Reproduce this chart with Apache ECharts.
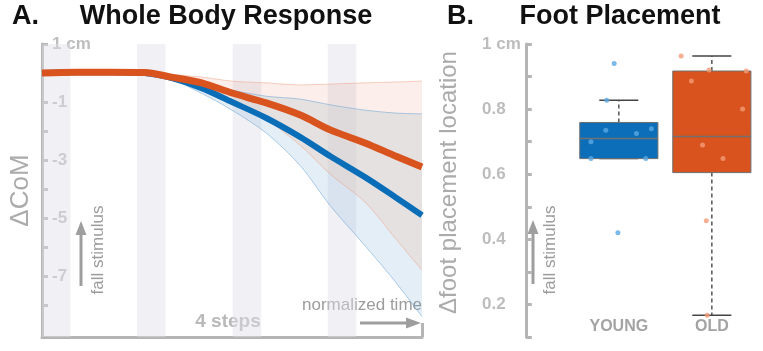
<!DOCTYPE html>
<html>
<head>
<meta charset="utf-8">
<script src="https://cdn.jsdelivr.net/npm/echarts@6/dist/echarts.min.js"></script>
<style>
  html, body { margin: 0; padding: 0; background: #fff; }
  #chart { width: 763px; height: 351px; }
</style>
</head>
<body>
<div id="chart"></div>
<script>
// A. whole body response (normalized time, % of 4 steps)
const timePts = [0, 9, 18, 27, 34, 42, 50, 59, 68, 76, 85, 93, 100]
const oldMean = [0, 0.03, 0.03, 0.02, -0.14, -0.34, -0.69, -1.03, -1.45, -1.97, -2.41, -2.86, -3.24]
const oldLower = [-0.03, -0.02, -0.02, -0.03, -0.25, -0.55, -1.03, -1.6, -2.5, -3.5, -4.45, -5.7, -6.8]
const oldUpper = [0.04, 0.07, 0.07, 0.06, -0.05, -0.14, -0.28, -0.34, -0.41, -0.38, -0.34, -0.31, -0.28]
const youngMean = [0, 0.03, 0.03, 0, -0.17, -0.52, -1.0, -1.55, -2.21, -2.88, -3.59, -4.28, -4.9]
const youngLower = [-0.03, -0.02, -0.02, -0.05, -0.22, -0.7, -1.28, -2.07, -3.2, -4.6, -5.95, -7.2, -8.4]
const youngUpper = [0.03, 0.06, 0.06, 0.03, -0.1, -0.35, -0.59, -0.8, -0.9, -1.1, -1.28, -1.38, -1.41]
const stepBands = [[0, 7.5], [25, 32.5], [50.2, 57.7], [75.2, 82.7]]
const comTicks = [1, 0, -1, -2, -3, -4, -5, -6, -7, -8]
const comLabels = [1, -1, -3, -5, -7]

// B. foot placement
const groups = ['YOUNG', 'OLD']
// [min, q1, median, q3, max]
const boxStats = [
  [0.648, 0.648, 0.71, 0.759, 0.827],
  [0.167, 0.605, 0.716, 0.917, 0.963]
]
const youngPts = [0.827, 0.735, 0.70, 0.725, 0.74, 0.648, 0.648, 0.94, 0.42]
const youngJitter = [-0.13, -0.14, -0.30, 0.19, 0.35, -0.30, 0.29, -0.05, -0.01]
const oldPts = [0.963, 0.92, 0.917, 0.886, 0.80, 0.69, 0.648, 0.457, 0.167]
const oldJitter = [-0.33, -0.03, 0.37, -0.22, 0.33, -0.10, 0.12, -0.06, -0.05]
const footTicks = [0.1, 0.2, 0.3, 0.4, 0.5, 0.6, 0.7, 0.8, 0.9, 1.0]
const footLabels = [0.2, 0.4, 0.6, 0.8, 1.0]

const chart = echarts.init(document.getElementById('chart'))

const FONT = '"Liberation Sans", Arial, sans-serif'
const axisGray = '#b5b5b5'
const labelGray = '#bdbdbd'
const textGray = '#9c9c9c'
const boxColors = ['#0c6eb9', '#d9531e']

const pair = (xs, ys) => xs.map((x, i) => [x, ys[i]])
const diff = (hi, lo) => hi.map((v, i) => v - lo[i])

// where the two bands overlap (gray zone in the figure)
const overlapLower = oldLower.map((v, i) => Math.max(v, youngLower[i]))
const overlapUpper = oldUpper.map((v, i) => Math.min(v, youngUpper[i]))

// confidence band = lower edge series + stacked width series
// data is [value, time] so that the first dimension (the one that gets stacked) is y
function band(name, lo, hi, fill, edge) {
  const common = {
    type: 'line', xAxisIndex: 0, yAxisIndex: 0,
    stack: name, stackStrategy: 'all', encode: { x: 1, y: 0 },
    smooth: 0.3, symbol: 'none', silent: true, z: 2,
    lineStyle: { color: edge, width: edge === 'none' ? 0 : 1 }
  }
  return [
    { ...common, name: name + 'lo', data: timePts.map((t, i) => [lo[i], t]) },
    {
      ...common, name: name + 'hi',
      data: diff(hi, lo).map((d, i) => [d, timePts[i]]),
      areaStyle: { color: fill, opacity: 1 }
    }
  ]
}

function renderBox(params, api) {
  const x = api.value(0)
  const lo = api.coord([x, api.value(1)])
  const q1 = api.coord([x, api.value(2)])
  const md = api.coord([x, api.value(3)])
  const q3 = api.coord([x, api.value(4)])
  const hi = api.coord([x, api.value(5)])
  const w = api.size([0.84, 0])[0]
  const cx = q1[0]
  const whisker = { stroke: '#555', lineWidth: 1.5, lineDash: [4, 3] }
  const cap = { stroke: '#444', lineWidth: 1.5 }
  return {
    type: 'group',
    children: [
      { type: 'line', shape: { x1: cx, y1: q3[1], x2: cx, y2: hi[1] }, style: whisker },
      { type: 'line', shape: { x1: cx, y1: q1[1], x2: cx, y2: lo[1] }, style: whisker },
      { type: 'line', shape: { x1: cx - w / 4, y1: hi[1], x2: cx + w / 4, y2: hi[1] }, style: cap },
      { type: 'line', shape: { x1: cx - w / 4, y1: lo[1], x2: cx + w / 4, y2: lo[1] }, style: cap },
      {
        type: 'rect',
        shape: { x: cx - w / 2, y: q3[1], width: w, height: q1[1] - q3[1] },
        style: { fill: boxColors[params.dataIndex], stroke: '#6f6f6f', lineWidth: 1 }
      },
      { type: 'line', shape: { x1: cx - w / 2, y1: md[1], x2: cx + w / 2, y2: md[1] }, style: { stroke: '#707070', lineWidth: 1.5 } }
    ]
  }
}

const titleFont = 'bold 27px ' + FONT

const option = {
  animation: false,
  grid: [
    { left: 34, right: 341, top: 44, bottom: 14 },
    { left: 470, right: 0, top: 44, bottom: 14 }
  ],
  xAxis: [
    {
      gridIndex: 0, type: 'value', min: 0, max: 100,
      splitLine: { show: false },
      axisLabel: { show: false },
      axisLine: { onZero: false, lineStyle: { color: axisGray, width: 3 } },
      axisTick: { show: true, inside: true, length: 14, customValues: [100], lineStyle: { color: axisGray, width: 3 } }
    },
    {
      gridIndex: 1, type: 'value', min: -0.6, max: 2.55,
      splitLine: { show: false },
      axisLine: { show: false, onZero: false },
      axisTick: { show: false },
      axisLabel: {
        inside: true, margin: 2, customValues: [1, 2],
        formatter: v => groups[Math.round(v) - 1],
        color: '#a3a3a3', fontFamily: FONT, fontWeight: 'bold', fontSize: 16
      }
    }
  ],
  yAxis: [
    {
      gridIndex: 0, type: 'value', min: -9.1, max: 1,
      name: 'ΔCoM', nameLocation: 'middle', nameGap: 8, nameRotate: 90,
      nameTextStyle: { color: '#ababab', fontFamily: FONT, fontSize: 26 },
      splitLine: { show: false },
      axisLine: { lineStyle: { color: axisGray, width: 3 } },
      axisTick: { inside: true, length: 6, customValues: comTicks, lineStyle: { color: axisGray, width: 3 } },
      axisLabel: {
        inside: true, margin: 10, customValues: comLabels,
        formatter: v => (v === 1 ? '1 cm' : String(v)),
        color: labelGray, fontFamily: FONT, fontWeight: 'bold', fontSize: 17
      }
    },
    {
      gridIndex: 1, type: 'value', min: 0.1, max: 1.0,
      name: 'Δfoot placement location', nameLocation: 'middle', nameGap: 9, nameRotate: 90,
      nameTextStyle: { color: '#ababab', fontFamily: FONT, fontSize: 24, padding: [0, 0, 0, 16] },
      splitLine: { show: false },
      axisLine: { lineStyle: { color: axisGray, width: 3 } },
      axisTick: { inside: true, length: 6, customValues: footTicks, lineStyle: { color: axisGray, width: 3 } },
      axisLabel: {
        inside: true, margin: 12, customValues: footLabels,
        formatter: v => (v === 1 ? '1 cm' : v.toFixed(1)),
        color: labelGray, fontFamily: FONT, fontWeight: 'bold', fontSize: 17
      }
    }
  ],
  series: [
    {
      name: 'steps', type: 'line', xAxisIndex: 0, yAxisIndex: 0, data: [], z: 1,
      markArea: {
        silent: true,
        itemStyle: { color: 'rgba(225,225,232,0.45)' },
        data: stepBands.map(b => [{ xAxis: b[0] }, { xAxis: b[1] }])
      }
    },
    ...band('young', youngLower, youngUpper, 'rgba(75,142,202,0.15)', 'rgba(120,170,215,0.6)'),
    ...band('old', oldLower, oldUpper, 'rgba(224,124,101,0.13)', 'rgba(235,150,120,0.45)'),
    ...band('both', overlapLower, overlapUpper, 'rgba(245,238,205,0.16)', 'none'),
    {
      name: 'YOUNG', type: 'line', xAxisIndex: 0, yAxisIndex: 0,
      data: pair(timePts, youngMean), smooth: 0.3, symbol: 'none', z: 3,
      lineStyle: { color: '#0a6db8', width: 6 }
    },
    {
      name: 'OLD', type: 'line', xAxisIndex: 0, yAxisIndex: 0,
      data: pair(timePts, oldMean), smooth: 0.3, symbol: 'none', z: 4,
      lineStyle: { color: '#d9531e', width: 7 }
    },
    {
      name: 'box', type: 'custom', xAxisIndex: 1, yAxisIndex: 1, z: 2,
      renderItem: renderBox,
      data: boxStats.map((s, i) => [i + 1, ...s])
    },
    {
      name: 'young pts', type: 'scatter', xAxisIndex: 1, yAxisIndex: 1, z: 5,
      symbolSize: 5, itemStyle: { color: '#5aa7e2' },
      data: youngPts.map((v, i) => [1 + youngJitter[i], v])
    },
    {
      name: 'old pts', type: 'scatter', xAxisIndex: 1, yAxisIndex: 1, z: 5,
      symbolSize: 5, itemStyle: { color: '#f29b76' },
      data: oldPts.map((v, i) => [2 + oldJitter[i], v])
    }
  ],
  graphic: [
    { type: 'text', x: 12, y: 17, style: { text: 'A.', font: titleFont, fill: '#111', verticalAlign: 'middle' } },
    { type: 'text', x: 226, y: 17, style: { text: 'Whole Body Response', font: titleFont, fill: '#111', align: 'center', verticalAlign: 'middle' } },
    { type: 'text', x: 447, y: 17, style: { text: 'B.', font: titleFont, fill: '#111', verticalAlign: 'middle' } },
    { type: 'text', x: 620, y: 17, style: { text: 'Foot Placement', font: titleFont, fill: '#111', align: 'center', verticalAlign: 'middle' } },

    // left panel annotations
    { type: 'text', x: 98, y: 250, rotation: Math.PI / 2, style: { text: 'fall stimulus', font: '17px ' + FONT, fill: textGray, align: 'center', verticalAlign: 'middle' } },
    { type: 'polyline', shape: { points: [[81, 286], [81, 232]] }, style: { stroke: '#9e9e9e', lineWidth: 3 } },
    { type: 'polygon', shape: { points: [[75.5, 235], [86.5, 235], [81, 221]] }, style: { fill: '#9e9e9e' } },
    { type: 'text', x: 228, y: 322, style: { text: '4 steps', font: 'bold 19px ' + FONT, fill: '#b9b9b9', align: 'center', verticalAlign: 'middle' } },
    { type: 'text', x: 422, y: 305, style: { text: 'normalized time', font: '17px ' + FONT, fill: textGray, align: 'right', verticalAlign: 'middle' } },
    { type: 'polyline', shape: { points: [[360, 323], [410, 323]] }, style: { stroke: '#9e9e9e', lineWidth: 3 } },
    { type: 'polygon', shape: { points: [[406, 317.5], [406, 328.5], [421, 323]] }, style: { fill: '#9e9e9e' } },

    // right panel annotations
    { type: 'text', x: 550, y: 250, rotation: Math.PI / 2, style: { text: 'fall stimulus', font: '17px ' + FONT, fill: textGray, align: 'center', verticalAlign: 'middle' } },
    { type: 'polyline', shape: { points: [[533, 284], [533, 231]] }, style: { stroke: '#9e9e9e', lineWidth: 3 } },
    { type: 'polygon', shape: { points: [[527.5, 234], [538.5, 234], [533, 220]] }, style: { fill: '#9e9e9e' } }
  ]
}

chart.setOption(option)
</script>
</body>
</html>
